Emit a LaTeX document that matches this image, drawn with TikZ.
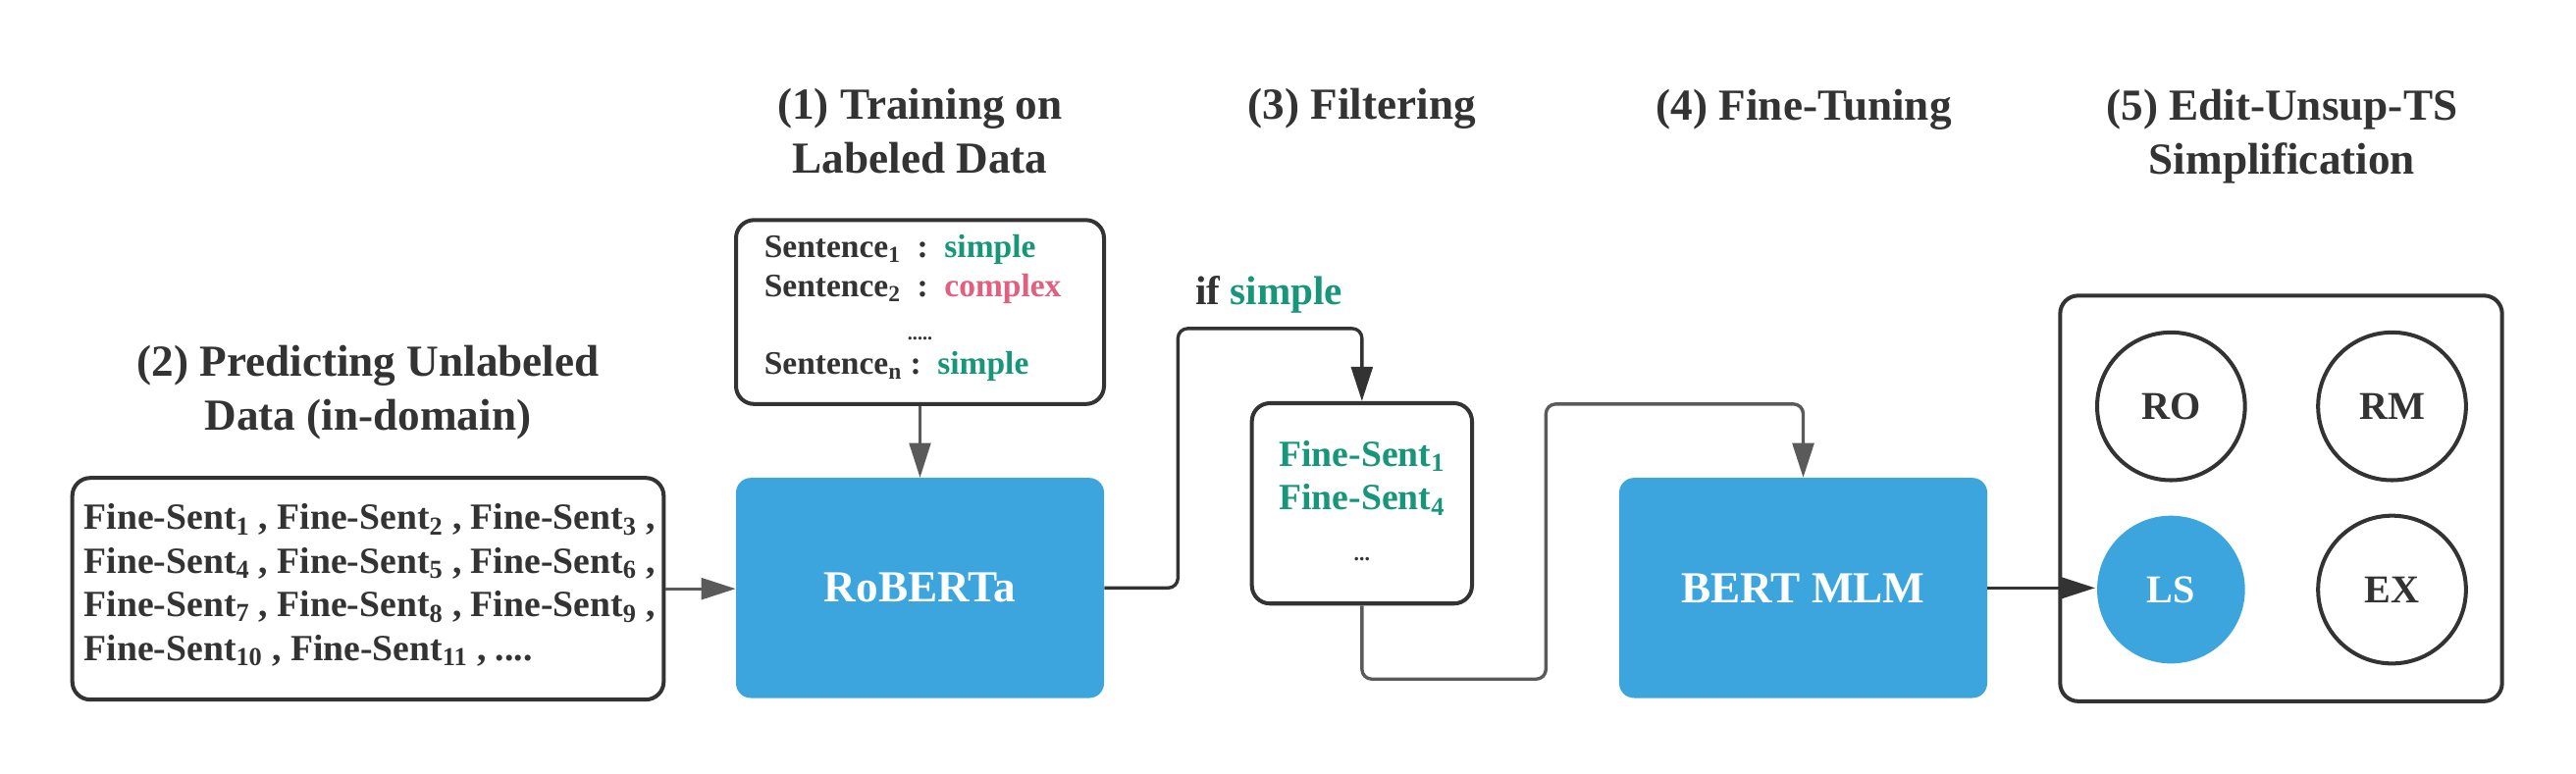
\documentclass[tikz,border=0pt]{standalone}
\usepackage{fontspec}
\setmainfont{Liberation Serif}
\usetikzlibrary{arrows.meta}
\definecolor{ink}{HTML}{333333}
\definecolor{cblue}{HTML}{3DA5DD}
\definecolor{cgreen}{HTML}{17967A}
\definecolor{cpink}{HTML}{E0607F}
\definecolor{cgray}{HTML}{5A5A5A}
\tikzset{
  ttl/.style={font=\fontsize{27}{32.7}\selectfont\bfseries, text=ink, align=center, inner sep=0pt},
  wbox/.style={draw=ink, line width=2.4pt, rounded corners=11pt, fill=white, inner sep=0pt},
  bbox/.style={fill=cblue, rounded corners=9pt, text=white, inner sep=0pt,
    font=\fontsize{27}{32}\selectfont\bfseries},
  circ/.style={circle, minimum size=90pt, inner sep=0pt, draw=ink, line width=2.4pt,
    font=\fontsize{24}{28}\selectfont\bfseries, text=ink},
  txt/.style={font=\fontsize{22.5}{26.5}\selectfont\bfseries, text=ink, inner sep=0pt},
  stxt/.style={font=\fontsize{20}{24}\selectfont\bfseries, text=ink, inner sep=0pt},
  dots/.style={font=\fontsize{12}{14}\selectfont\bfseries, text=ink, inner sep=0pt},
  arr/.style={-{Triangle[length=21pt,width=13pt]}, line width=2pt},
}
\begin{document}
\begin{tikzpicture}[x=1pt,y=-1pt]
\useasboundingbox[fill=white] (0,0) rectangle (1568,471);

% titles (base anchor = baseline of last line)
\node[ttl, anchor=base] (t1) at (560,105.5) {(1) Training on\\Labeled Data};
\node[ttl, anchor=base] (t2) at (224,261.8) {(2) Predicting Unlabeled\\Data (in-domain)};
\node[ttl, anchor=base] (t3) at (829,72.7) {(3) Filtering};
\node[ttl, anchor=base] (t4) at (1098,73) {(4) Fine-Tuning};
\node[ttl, anchor=base] (t5) at (1389,105.9) {(5) Edit-Unsup-TS\\Simplification};

% labeled data box
\node[wbox, minimum width=224pt, minimum height=112pt] (lab) at (560,190) {};
\node[stxt, anchor=base west] (s1) at (465,156.5) {Sentence\textsubscript{1}\ \ :\ \ \textcolor{cgreen}{simple}};
\node[stxt, anchor=base west] (s2) at (465,180.5) {Sentence\textsubscript{2}\ \ :\ \ \textcolor{cpink}{complex}};
\node[dots, anchor=base] (sd) at (560,207) {.....};
\node[stxt, anchor=base west] (sn) at (465,228) {Sentence\textsubscript{n}\ :\ \ \textcolor{cgreen}{simple}};

% unlabeled data box
\node[wbox, minimum width=360pt, minimum height=135pt] (unl) at (224,358.5) {};
\node[txt, align=left, anchor=base west] (ul) at (51,402)
  {Fine-Sent\textsubscript{1} , Fine-Sent\textsubscript{2} , Fine-Sent\textsubscript{3} ,\\
   Fine-Sent\textsubscript{4} , Fine-Sent\textsubscript{5} , Fine-Sent\textsubscript{6} ,\\
   Fine-Sent\textsubscript{7} , Fine-Sent\textsubscript{8} , Fine-Sent\textsubscript{9} ,\\
   Fine-Sent\textsubscript{10} , Fine-Sent\textsubscript{11} , ....};

% models
\node[bbox, minimum width=224pt, minimum height=134pt] (rob) at (560,358) {RoBERTa};
\node[bbox, minimum width=224pt, minimum height=134pt] (bert) at (1097.6,358) {BERT MLM};

% filtered box
\node[wbox, minimum width=134pt, minimum height=122pt] (fil) at (829,306.5) {};
\node[txt, text=cgreen, anchor=base] (f1) at (829,283.8) {Fine-Sent\textsubscript{1}};
\node[txt, text=cgreen, anchor=base] (f4) at (829,310.6) {Fine-Sent\textsubscript{4}};
\node[dots, font=\fontsize{13}{15}\selectfont\bfseries, anchor=base] (fd) at (829,341.5) {...};

% if simple
\node[font=\fontsize{24.6}{28}\selectfont\bfseries, text=ink, inner sep=0pt, anchor=base west] (ifs)
  at (727.5,185.2) {if \textcolor{cgreen}{simple}};

% edit box
\node[wbox, minimum width=269pt, minimum height=247pt] (edit) at (1388.5,303.5) {};
\node[circ] (ro) at (1321.5,247.4) {RO};
\node[circ] (rm) at (1456,247.4) {RM};
\node[circ, draw=none, fill=cblue, text=white] (ls) at (1321.5,359) {LS};
\node[circ] (ex) at (1456,359) {EX};

% connectors
\coordinate (c1) at (717,200);
\coordinate (c2) at (941,413.5);
\coordinate (c3) at (941,246);
\draw[arr, cgray] (unl.east) -- (unl.east -| rob.west);
\draw[arr, cgray, line width=1.6pt] (lab.south) -- (rob.north);
\draw[arr, ink, rounded corners=6pt] (rob.east) -| (c1) -| (fil.north);
\draw[arr, cgray, rounded corners=6pt] (fil.south) |- (c2) -- (c3) -| (bert.north);
\draw[arr, ink] (bert.east) -- (bert.east -| ls.west);
\end{tikzpicture}
\end{document}
